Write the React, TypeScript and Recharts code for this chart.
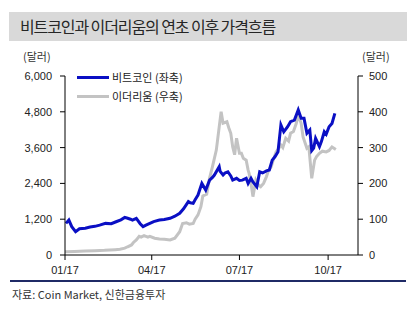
import React from "react";
import { LineChart, Line, XAxis, YAxis } from "recharts";

// Day-of-year (from 1 Jan 2017) and closing prices in USD
const btcDays = [1, 4, 7, 11, 15, 21, 26, 31, 36, 42, 48, 53, 58, 62, 65, 68, 70, 74, 78, 81, 84, 88, 92, 98, 103, 109, 114, 119, 123, 128, 130, 133, 135, 138, 142, 146, 150, 153, 155, 160, 161, 164, 166, 169, 172, 174, 178, 181, 184, 188, 190, 193, 195, 199, 202, 205, 209, 212, 215, 218, 221, 224, 227, 231, 234, 238, 242, 245, 248, 251, 254, 256, 258, 260, 264, 266, 269, 271, 274, 277, 280];
const btcPrices = [1060, 1170, 950, 780, 880, 900, 940, 960, 1000, 1060, 1050, 1115, 1180, 1260, 1230, 1200, 1170, 1230, 1050, 950, 1000, 1060, 1120, 1170, 1190, 1230, 1300, 1400, 1550, 1790, 1750, 1730, 1850, 2010, 2400, 2180, 2510, 2600, 2680, 2960, 2800, 2680, 2750, 2790, 2650, 2510, 2570, 2500, 2510, 2570, 2400, 2570, 2450, 2290, 2790, 2750, 2820, 2850, 3180, 3300, 3460, 4360, 4130, 4300, 4470, 4520, 4860, 4580, 4580, 4080, 4190, 3500, 3580, 3910, 3630, 3800, 4130, 4050, 4300, 4410, 4750];

const ethDays = [0, 10, 21, 31, 41, 52, 57, 62, 65, 69, 71, 74, 77, 79, 82, 86, 88, 93, 98, 103, 109, 114, 119, 122, 126, 129, 133, 135, 138, 141, 143, 147, 150, 153, 157, 160, 162, 164, 168, 170, 172, 174, 176, 178, 181, 183, 185, 188, 190, 191, 193, 195, 198, 201, 203, 206, 209, 211, 214, 216, 219, 221, 224, 226, 229, 232, 234, 237, 240, 242, 245, 247, 251, 253, 256, 259, 261, 264, 267, 271, 274, 277, 281];
const ethPrices = [9, 10, 11, 12, 13, 15, 16, 19, 23, 28, 35, 42, 52, 50, 54, 50, 52, 47, 45, 44, 42, 47, 65, 88, 90, 86, 88, 100, 112, 135, 165, 170, 215, 247, 293, 358, 400, 368, 372, 355, 340, 302, 280, 326, 284, 284, 270, 265, 237, 228, 200, 163, 209, 195, 191, 200, 219, 235, 247, 265, 288, 295, 307, 300, 326, 318, 340, 345, 368, 391, 368, 330, 298, 302, 214, 265, 275, 284, 290, 288, 292, 302, 295];

const monthTicks = [0, 90, 181, 273];
const monthLabels = ["01/17", "04/17", "07/17", "10/17"];
const leftTicks = [0, 1200, 2400, 3600, 4800, 6000];
const rightTicks = [0, 100, 200, 300, 400, 500];

const btcData = btcDays.map((d, i) => ({ day: d, btc: btcPrices[i] }));
const ethData = ethDays.map((d, i) => ({ day: d, eth: ethPrices[i] }));

const BLUE = "#0a0fc4";
const GRAY = "#c3c3c3";
const KR = "'Noto Sans CJK KR', sans-serif";
const LAT = "'Liberation Sans', Arial, sans-serif";

const tickStyle = { fontSize: 11, fill: "#222", fontFamily: LAT };

const legendItems = [
  { c: BLUE, t: "비트코인 (좌축)" },
  { c: GRAY, t: "이더리움 (우축)" },
];

export default function App() {
  return (
    <div style={{ position: "absolute", left: 0, top: 0, width: 418, height: 309, background: "#fff" }}>
      <div
        style={{
          position: "absolute", left: 9, top: 12, width: 398, height: 29, background: "#d9d9d9",
        }}
      />
      <div
        style={{
          position: "absolute", left: 20, top: 13, height: 27, lineHeight: "27px", fontFamily: KR,
          fontSize: 16, letterSpacing: -1.1, color: "#262626", whiteSpace: "nowrap",
        }}
      >
        비트코인과 이더리움의 연초 이후 가격흐름
      </div>
      <div style={{ position: "absolute", left: 23, top: 48, fontFamily: KR, fontSize: 11, color: "#333" }}>(달러)</div>
      <div style={{ position: "absolute", left: 362, top: 48, fontFamily: KR, fontSize: 11, color: "#333" }}>(달러)</div>

      <div style={{ position: "absolute", left: 0, top: 0 }}>
        <LineChart width={418} height={309} margin={{ top: 76, right: 0, bottom: 34, left: 0 }}>
          <XAxis
            dataKey="day"
            type="number"
            domain={[0, 304]}
            ticks={monthTicks}
            tickFormatter={(v: number) => monthLabels[monthTicks.indexOf(v)]}
            tick={tickStyle}
            stroke="#000"
            tickSize={5}
            tickMargin={6}
            height={20}
            allowDuplicatedCategory={false}
          />
          <YAxis
            yAxisId="left"
            orientation="left"
            domain={[0, 6000]}
            ticks={leftTicks}
            tickFormatter={(v: number) => v.toLocaleString("en-US")}
            tick={tickStyle}
            stroke="#000"
            tickSize={5}
            tickMargin={8}
            width={65}
          />
          <YAxis
            yAxisId="right"
            orientation="right"
            domain={[0, 500]}
            ticks={rightTicks}
            tick={tickStyle}
            stroke="#000"
            tickSize={5}
            tickMargin={6}
            width={60}
          />
          <Line
            yAxisId="right"
            data={ethData}
            dataKey="eth"
            stroke={GRAY}
            strokeWidth={3}
            dot={false}
            isAnimationActive={false}
          />
          <Line
            yAxisId="left"
            data={btcData}
            dataKey="btc"
            stroke={BLUE}
            strokeWidth={3}
            dot={false}
            isAnimationActive={false}
          />
        </LineChart>
      </div>

      <div style={{ position: "absolute", left: 77, top: 68, fontFamily: KR, fontSize: 11, color: "#222", lineHeight: "19px" }}>
        {legendItems.map((e) => (
          <div key={e.t} style={{ display: "flex", alignItems: "center", whiteSpace: "nowrap" }}>
            <span style={{ display: "inline-block", width: 32, height: 3, background: e.c, marginRight: 3 }} />
            <span>{e.t}</span>
          </div>
        ))}
      </div>

      <div style={{ position: "absolute", left: 10, top: 280, width: 396, height: 2, background: "#1f2a66" }} />
      <div style={{ position: "absolute", left: 12, top: 286, fontFamily: KR, fontSize: 11, color: "#333" }}>
        자료: Coin Market, 신한금융투자
      </div>
    </div>
  );
}
